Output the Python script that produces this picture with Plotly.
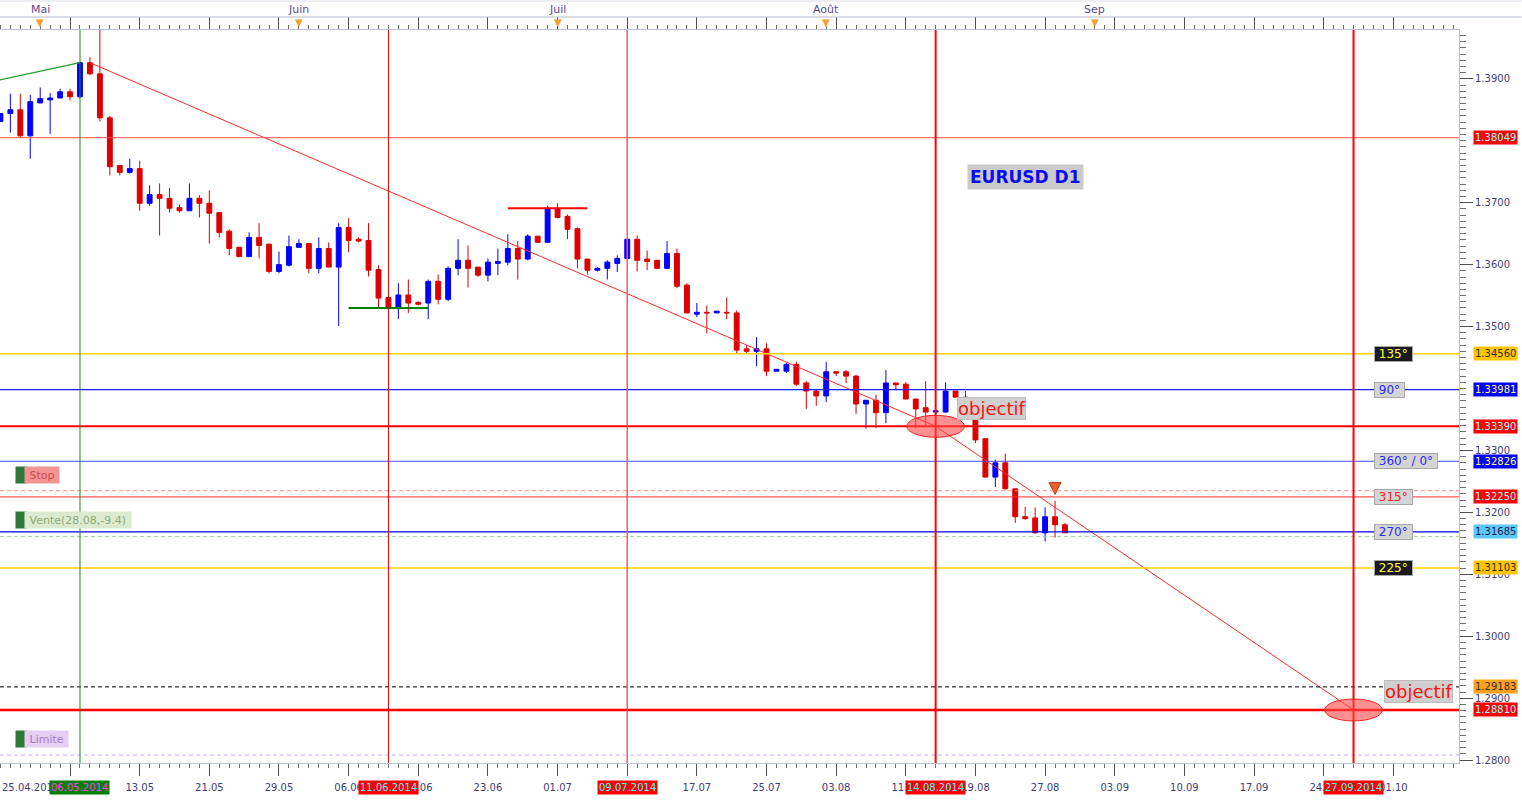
import plotly.graph_objects as go
from datetime import date, timedelta

# ---------------- data ----------------
candle_dates = [
    "2014-04-27", "2014-04-28", "2014-04-29", "2014-04-30", "2014-05-01", "2014-05-02", "2014-05-04", "2014-05-05",
    "2014-05-06", "2014-05-07", "2014-05-08", "2014-05-09", "2014-05-11", "2014-05-12", "2014-05-13", "2014-05-14",
    "2014-05-15", "2014-05-16", "2014-05-18", "2014-05-19", "2014-05-20", "2014-05-21", "2014-05-22", "2014-05-23",
    "2014-05-25", "2014-05-26", "2014-05-27", "2014-05-28", "2014-05-29", "2014-05-30", "2014-06-01", "2014-06-02",
    "2014-06-03", "2014-06-04", "2014-06-05", "2014-06-06", "2014-06-08", "2014-06-09", "2014-06-10", "2014-06-11",
    "2014-06-12", "2014-06-13", "2014-06-15", "2014-06-16", "2014-06-17", "2014-06-18", "2014-06-19", "2014-06-20",
    "2014-06-22", "2014-06-23", "2014-06-24", "2014-06-25", "2014-06-26", "2014-06-27", "2014-06-29", "2014-06-30",
    "2014-07-01", "2014-07-02", "2014-07-03", "2014-07-04", "2014-07-06", "2014-07-07", "2014-07-08", "2014-07-09",
    "2014-07-10", "2014-07-11", "2014-07-13", "2014-07-14", "2014-07-15", "2014-07-16", "2014-07-17", "2014-07-18",
    "2014-07-20", "2014-07-21", "2014-07-22", "2014-07-23", "2014-07-24", "2014-07-25", "2014-07-27", "2014-07-28",
    "2014-07-29", "2014-07-30", "2014-07-31", "2014-08-01", "2014-08-03", "2014-08-04", "2014-08-05", "2014-08-06",
    "2014-08-07", "2014-08-08", "2014-08-10", "2014-08-11", "2014-08-12", "2014-08-13", "2014-08-14", "2014-08-15",
    "2014-08-17", "2014-08-18", "2014-08-19", "2014-08-20", "2014-08-21", "2014-08-22", "2014-08-24", "2014-08-25",
    "2014-08-26", "2014-08-27", "2014-08-28", "2014-08-29",
]
opens = [
    1.3831, 1.3844, 1.3850, 1.3808, 1.3861, 1.3866, 1.3869, 1.3879, 1.3871, 1.3926, 1.3908, 1.3837,
    1.3760, 1.3749, 1.3755, 1.3699, 1.3713, 1.3707, 1.3692, 1.3687, 1.3707, 1.3699, 1.3684, 1.3654,
    1.3628, 1.3613, 1.3644, 1.3633, 1.3589, 1.3599, 1.3628, 1.3634, 1.3594, 1.3626, 1.3596, 1.3660,
    1.3641, 1.3639, 1.3592, 1.3547, 1.3530, 1.3551, 1.3539, 1.3538, 1.3573, 1.3544, 1.3594, 1.3607,
    1.3596, 1.3583, 1.3602, 1.3604, 1.3626, 1.3609, 1.3646, 1.3636, 1.3691, 1.3678, 1.3658, 1.3609,
    1.3591, 1.3594, 1.3602, 1.3610, 1.3641, 1.3609, 1.3607, 1.3594, 1.3618, 1.3567, 1.3520, 1.3523,
    1.3522, 1.3523, 1.3522, 1.3464, 1.3460, 1.3464, 1.3428, 1.3428, 1.3439, 1.3409, 1.3396, 1.3388,
    1.3427, 1.3427, 1.3420, 1.3375, 1.3381, 1.3361, 1.3409, 1.3407, 1.3383, 1.3369, 1.3362, 1.3362,
    1.3396, 1.3386, 1.3381, 1.3319, 1.3257, 1.3280, 1.3238, 1.3193, 1.3191, 1.3167, 1.3193, 1.3180,
]
highs = [
    1.3844, 1.3876, 1.3876, 1.3874, 1.3886, 1.3877, 1.3884, 1.3884, 1.3927, 1.3935, 1.3913, 1.3840,
    1.3760, 1.3771, 1.3768, 1.3728, 1.3731, 1.3724, 1.3697, 1.3731, 1.3712, 1.3720, 1.3684, 1.3657,
    1.3628, 1.3652, 1.3667, 1.3634, 1.3621, 1.3647, 1.3641, 1.3634, 1.3644, 1.3636, 1.3667, 1.3675,
    1.3644, 1.3667, 1.3599, 1.3547, 1.3570, 1.3576, 1.3541, 1.3576, 1.3584, 1.3597, 1.3641, 1.3631,
    1.3596, 1.3610, 1.3626, 1.3649, 1.3638, 1.3649, 1.3646, 1.3695, 1.3699, 1.3681, 1.3660, 1.3609,
    1.3596, 1.3607, 1.3615, 1.3641, 1.3647, 1.3623, 1.3607, 1.3638, 1.3626, 1.3570, 1.3538, 1.3534,
    1.3525, 1.3547, 1.3526, 1.3470, 1.3483, 1.3473, 1.3431, 1.3441, 1.3443, 1.3412, 1.3398, 1.3443,
    1.3427, 1.3430, 1.3422, 1.3381, 1.3390, 1.3430, 1.3409, 1.3410, 1.3383, 1.3412, 1.3364, 1.3410,
    1.3396, 1.3396, 1.3386, 1.3319, 1.3285, 1.3295, 1.3238, 1.3209, 1.3208, 1.3208, 1.3219, 1.3183,
]
lows = [
    1.3831, 1.3813, 1.3805, 1.3771, 1.3861, 1.3811, 1.3869, 1.3865, 1.3869, 1.3906, 1.3831, 1.3744,
    1.3744, 1.3747, 1.3687, 1.3695, 1.3647, 1.3684, 1.3684, 1.3687, 1.3676, 1.3634, 1.3644, 1.3615,
    1.3613, 1.3612, 1.3610, 1.3586, 1.3586, 1.3597, 1.3628, 1.3586, 1.3586, 1.3596, 1.3501, 1.3620,
    1.3636, 1.3581, 1.3531, 1.3530, 1.3512, 1.3522, 1.3534, 1.3512, 1.3536, 1.3541, 1.3583, 1.3563,
    1.3580, 1.3573, 1.3583, 1.3599, 1.3576, 1.3607, 1.3636, 1.3636, 1.3675, 1.3641, 1.3594, 1.3584,
    1.3589, 1.3576, 1.3588, 1.3610, 1.3589, 1.3591, 1.3594, 1.3594, 1.3562, 1.3522, 1.3515, 1.3489,
    1.3522, 1.3512, 1.3457, 1.3456, 1.3436, 1.3420, 1.3428, 1.3425, 1.3404, 1.3367, 1.3372, 1.3378,
    1.3420, 1.3409, 1.3359, 1.3335, 1.3336, 1.3344, 1.3398, 1.3383, 1.3336, 1.3341, 1.3362, 1.3361,
    1.3386, 1.3381, 1.3312, 1.3257, 1.3241, 1.3237, 1.3183, 1.3188, 1.3166, 1.3153, 1.3159, 1.3167,
]
closes = [
    1.3844, 1.3850, 1.3808, 1.3863, 1.3868, 1.3869, 1.3879, 1.3871, 1.3926, 1.3908, 1.3837, 1.3758,
    1.3749, 1.3755, 1.3699, 1.3713, 1.3707, 1.3691, 1.3687, 1.3707, 1.3699, 1.3683, 1.3652, 1.3626,
    1.3613, 1.3644, 1.3631, 1.3589, 1.3600, 1.3629, 1.3634, 1.3594, 1.3626, 1.3596, 1.3660, 1.3639,
    1.3638, 1.3591, 1.3546, 1.3530, 1.3551, 1.3538, 1.3536, 1.3573, 1.3544, 1.3594, 1.3607, 1.3594,
    1.3583, 1.3604, 1.3605, 1.3626, 1.3609, 1.3646, 1.3636, 1.3691, 1.3676, 1.3657, 1.3609, 1.3591,
    1.3594, 1.3604, 1.3610, 1.3641, 1.3607, 1.3605, 1.3594, 1.3618, 1.3565, 1.3522, 1.3523, 1.3522,
    1.3525, 1.3522, 1.3462, 1.3460, 1.3464, 1.3428, 1.3431, 1.3439, 1.3407, 1.3396, 1.3388, 1.3427,
    1.3425, 1.3420, 1.3375, 1.3381, 1.3361, 1.3409, 1.3406, 1.3383, 1.3367, 1.3362, 1.3364, 1.3396,
    1.3386, 1.3383, 1.3317, 1.3257, 1.3280, 1.3238, 1.3193, 1.3190, 1.3167, 1.3193, 1.3180, 1.3167,
]

first_slot = "2014-04-25"
future_start = date(2014, 8, 30)
future_end = date(2014, 10, 8)

# price-axis tick values (those fully hidden under price tags are omitted)
y_tick_vals = [1.28, 1.29, 1.30, 1.31, 1.32, 1.33, 1.35, 1.36, 1.37, 1.39]

# horizontal levels: price, colour, width, dash
level_prices = [1.38049, 1.34560, 1.33981, 1.33390, 1.32826, 1.32350, 1.32250, 1.31685, 1.31609, 1.31103, 1.29183, 1.28810, 1.28082]
level_colors = ["#ff4a4a", "#ffd200", "#1a1aff", "#ff0000", "#4a4aff", "#ff8a8a", "#ff2a2a", "#0000ff", "#a8cc98", "#ffd200", "#000000", "#ff0000", "#d2aaf0"]
level_widths = [1, 1.5, 1.2, 2, 1.2, 1, 1, 1.2, 1, 1.5, 1, 2.5, 1]
level_dashes = ["solid", "solid", "solid", "solid", "solid", "dash", "solid", "solid", "dash", "solid", "dash", "solid", "dash"]

# price tags on the right axis
tag_prices = [1.38049, 1.34560, 1.33981, 1.33390, 1.32826, 1.32250, 1.31685, 1.31103, 1.29183, 1.28810]
tag_bg = ["#ff0000", "#ffc400", "#0000ff", "#ff0000", "#0000ff", "#ff0000", "#5cc8f8", "#ffc400", "#ffa020", "#ff0000"]
tag_fg = ["#8affff", "#303030", "#ffff80", "#8affff", "#ffff80", "#8affff", "#202050", "#303030", "#303030", "#8affff"]

# angle labels
deg_texts = ["135°", "90°", "360° / 0°", "315°", "270°", "225°"]
deg_prices = [1.34560, 1.33981, 1.32826, 1.32250, 1.31685, 1.31103]
deg_bg = ["#1a1a1a", "#d4d4d4", "#d4d4d4", "#d4d4d4", "#d4d4d4", "#1a1a1a"]
deg_fg = ["#ffff40", "#2a2aff", "#2a2aff", "#ff2020", "#2a2aff", "#ffff40"]
deg_anchor_date = "2014-09-29"

# vertical markers
vline_dates = ["2014-05-06", "2014-06-11", "2014-07-09", "2014-08-14", "2014-09-27"]
vline_colors = ["#1a8a1a", "#e00000", "#ff5a5a", "#ff0000", "#ff0000"]
vline_widths = [1, 1, 1.5, 2, 2]
vbox_bg = ["#008000", "#ff0000", "#ff0000", "#ff0000", "#ff0000"]
vbox_fg = ["#ff40ff", "#40ffff", "#40ffff", "#40ffff", "#40ffff"]
peak_seg_date = "2014-05-08"
peak_seg_price = 1.3913

# drawn lines
red_trend_dates = ["2014-05-07", "2014-08-14", "2014-09-27"]
red_trend_prices = [1.3926, 1.3339, 1.2881]
green_trend_dates = ["2014-04-25", "2014-05-06"]
green_trend_prices = [1.3895, 1.3926]
support_dates = ["2014-06-06", "2014-06-16"]
support_prices = [1.3530, 1.3530]
resist_dates = ["2014-06-25", "2014-07-04"]
resist_prices = [1.3691, 1.3691]

# objectives
obj_dates = ["2014-08-14", "2014-09-27"]
obj_prices = [1.33390, 1.28810]
obj_label_dates = ["2014-08-17", "2014-09-30"]
obj_label_prices = [1.3367, 1.2911]

arrow_date = "2014-08-28"
arrow_price = 1.3229

title_text = "EURUSD D1"
title_date = "2014-08-25"
title_price = 1.3741

order_texts = ["Stop", "Vente(28.08,-9.4)", "Limite"]
order_prices = [1.3261, 1.3187, 1.2834]
order_bg = ["#f29494", "#dcebd0", "#e4cef2"]
order_fg = ["#c85050", "#94a878", "#a47ccc"]

month_texts = ["Mai", "Juin", "Juil", "Août", "Sep"]
month_dates = ["2014-05-01", "2014-06-01", "2014-07-01", "2014-08-01", "2014-09-01"]

left_date_label = "25.04.2014"

# ---------------- build ----------------
slots = [first_slot] + candle_dates
d = future_start
while d <= future_end:
    slots.append(d.isoformat())
    d += timedelta(days=1)
pos = {s: i for i, s in enumerate(slots)}

def dm(s):
    return s[8:10] + "." + s[5:7]

def dmy(s):
    return s[8:10] + "." + s[5:7] + "." + s[0:4]

xc = [pos[s] for s in candle_dates]

PLOT_W = 1459.0
PLOT_H = 733.0
XR = [0.96, 147.6]
YR = [1.27954, 1.39788]
FONT = "DejaVu Sans"
TICKC = "#404078"

fig = go.Figure()

fig.add_trace(go.Candlestick(
    x=xc, open=opens, high=highs, low=lows, close=closes,
    increasing=dict(line=dict(color="#0000ff", width=1), fillcolor="#0000ff"),
    decreasing=dict(line=dict(color="#dd0000", width=1), fillcolor="#dd0000"),
    whiskerwidth=0, showlegend=False, hoverinfo="skip",
))

def add_line(dates, prices, color, width):
    fig.add_trace(go.Scatter(x=[pos[s] for s in dates], y=prices, mode="lines",
                             line=dict(color=color, width=width), showlegend=False, hoverinfo="skip"))

add_line(green_trend_dates, green_trend_prices, "#2a9a2a", 1.2)
add_line(red_trend_dates, red_trend_prices, "#ff2a2a", 1)
add_line(support_dates, support_prices, "#008000", 2)
add_line(resist_dates, resist_prices, "#ff0000", 2)

fig.add_trace(go.Scatter(x=[pos[arrow_date]], y=[arrow_price], mode="markers",
                         marker=dict(symbol="arrow-down", size=12, color="#e8602c",
                                     line=dict(color="#c03a10", width=1)),
                         showlegend=False, hoverinfo="skip"))

shapes = []
for p, c, w, ds in zip(level_prices, level_colors, level_widths, level_dashes):
    shapes.append(dict(type="line", xref="paper", x0=0, x1=1, yref="y", y0=p, y1=p,
                       line=dict(color=c, width=w, dash=ds if ds != "dash" else "4px,3px"), layer="above"))
for s, c, w in zip(vline_dates, vline_colors, vline_widths):
    shapes.append(dict(type="line", xref="x", x0=pos[s], x1=pos[s], yref="paper", y0=0, y1=1,
                       line=dict(color=c, width=w), layer="above"))
shapes.append(dict(type="line", xref="x", x0=pos[peak_seg_date], x1=pos[peak_seg_date], yref="y",
                   y0=peak_seg_price, y1=YR[1], line=dict(color="#e00000", width=1), layer="above"))
for s, p in zip(obj_dates, obj_prices):
    shapes.append(dict(type="circle", xref="x", yref="y", x0=pos[s] - 2.9, x1=pos[s] + 2.9,
                       y0=p - 0.00177, y1=p + 0.00177,
                       fillcolor="rgba(255,70,70,0.6)", line=dict(color="#ff2020", width=1), layer="above"))
shapes.append(dict(type="line", xref="paper", x0=0, x1=1.043, yref="paper", y0=1 + 13 / PLOT_H, y1=1 + 13 / PLOT_H,
                   line=dict(color="#b8bccc", width=1)))
shapes.append(dict(type="line", xref="paper", x0=0, x1=1.043, yref="paper", y0=1 + 29 / PLOT_H, y1=1 + 29 / PLOT_H,
                   line=dict(color="#dcdce6", width=1)))

ann = []
for t, s in zip(month_texts, month_dates):
    ann.append(dict(x=pos[s], xref="x", y=1 + 20 / PLOT_H, yref="paper", text=t, showarrow=False,
                    font=dict(family=FONT, size=11, color="#5a4a8e"), yanchor="middle"))
    ann.append(dict(x=pos[s], xref="x", y=1 + 7 / PLOT_H, yref="paper", text="▼", showarrow=False,
                    font=dict(family=FONT, size=10, color="#f2a030"), yanchor="middle"))

ann.append(dict(x=0, xref="paper", y=-24 / PLOT_H, yref="paper", text=left_date_label, showarrow=False,
                xanchor="left", yanchor="middle", font=dict(family=FONT, size=10, color=TICKC)))
for s, bg, fg in zip(vline_dates, vbox_bg, vbox_fg):
    ann.append(dict(x=pos[s], xref="x", y=-24 / PLOT_H, yref="paper", text=dmy(s), showarrow=False,
                    xanchor="center", yanchor="middle", bgcolor=bg, borderpad=1,
                    font=dict(family=FONT, size=10, color=fg)))

for p, bg, fg in zip(tag_prices, tag_bg, tag_fg):
    ann.append(dict(x=1, xref="paper", xshift=14, y=p, yref="y", text="%.5f" % p, showarrow=False,
                    xanchor="left", yanchor="middle", bgcolor=bg, borderpad=1,
                    font=dict(family=FONT, size=10, color=fg)))

for t, p, bg, fg in zip(deg_texts, deg_prices, deg_bg, deg_fg):
    ann.append(dict(x=pos[deg_anchor_date], xref="x", xshift=1, y=p, yref="y",
                    text="&nbsp;" + t + "&nbsp;", showarrow=False,
                    xanchor="left", yanchor="middle", bgcolor=bg, bordercolor="#a8a8a8", borderwidth=1,
                    borderpad=0, font=dict(family=FONT, size=12, color=fg)))

for s, p in zip(obj_label_dates, obj_label_prices):
    ann.append(dict(x=pos[s], xref="x", xshift=1, y=p, yref="y", text="objectif", showarrow=False,
                    xanchor="left", yanchor="middle", bgcolor="#cfcfcf", bordercolor="#bdbdbd",
                    borderwidth=1, borderpad=0, font=dict(family=FONT, size=18, color="#ff1010")))

ann.append(dict(x=pos[title_date], xref="x", y=title_price, yref="y", text="<b>%s</b>" % title_text,
                showarrow=False, xanchor="center", yanchor="middle", bgcolor="#cacaca", borderpad=2,
                font=dict(family=FONT, size=17, color="#0a0aee")))

for t, p, bg, fg in zip(order_texts, order_prices, order_bg, order_fg):
    ann.append(dict(x=15 / PLOT_W, xref="paper", y=p, yref="y", text=" ", showarrow=False,
                    xanchor="left", yanchor="middle", bgcolor="#2f7a3a", width=8, height=14, borderpad=1))
    ann.append(dict(x=24 / PLOT_W, xref="paper", y=p, yref="y", text="&nbsp;" + t + "&nbsp;", showarrow=False,
                    xanchor="left", yanchor="middle", bgcolor=bg, borderpad=1, height=14,
                    font=dict(family=FONT, size=11, color=fg)))

# bottom ticks every 7 slots; slots covered by highlighted date boxes get no plain label
boxed = set(pos[s] for s in vline_dates)
tickvals = list(range(pos["2014-05-05"], len(slots), 7))
ticktext = ["" if (i in boxed or i + 1 in boxed) else dm(slots[i]) for i in tickvals]

fig.update_layout(
    width=1522, height=800,
    margin=dict(l=0, r=63, t=30, b=37),
    paper_bgcolor="white", plot_bgcolor="white",
    showlegend=False,
    shapes=shapes, annotations=ann,
    xaxis=dict(range=XR, type="linear", rangeslider=dict(visible=False),
               tickmode="array", tickvals=tickvals, ticktext=ticktext,
               ticks="outside", ticklen=12, tickcolor="#505050", tickwidth=1,
               ticklabelstandoff=3,
               minor=dict(dtick=1, tick0=0, ticks="outside", ticklen=4, tickcolor="#707070"),
               showline=True, linecolor="#b8c0d8", mirror="ticks", showgrid=False, zeroline=False,
               tickfont=dict(family=FONT, size=10, color=TICKC)),
    yaxis=dict(range=YR, side="right", tickmode="array", tickvals=y_tick_vals, tickformat=".4f",
               ticks="outside", ticklen=13, tickcolor="#505050",
               minor=dict(dtick=0.001, tick0=1.28, ticks="outside", ticklen=6, tickcolor="#707070"),
               showline=True, linecolor="#b8c0d8", showgrid=False, zeroline=False,
               tickfont=dict(family=FONT, size=10, color=TICKC)),
)

fig.write_html("out.html", config={"displayModeBar": False},
               post_script="document.body.style.margin='0px';document.body.style.overflow='hidden';")
